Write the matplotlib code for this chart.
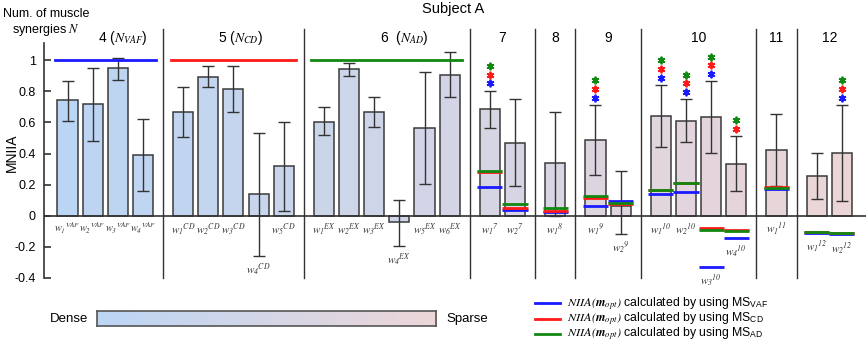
import matplotlib
matplotlib.use("Agg")
import matplotlib.pyplot as plt
import numpy as np
from matplotlib.colors import to_rgb, LinearSegmentedColormap

plt.rcParams['font.family'] = ['Liberation Sans', 'DejaVu Sans']
plt.rcParams['mathtext.fontset'] = 'custom'
plt.rcParams['mathtext.rm'] = 'STIXGeneral:italic'
plt.rcParams['mathtext.sf'] = 'Liberation Sans'
plt.rcParams['mathtext.it'] = 'STIXGeneral:italic'
plt.rcParams['mathtext.bf'] = 'STIXGeneral:italic:bold'

# ---- data ----
group_names = ['4', '5', '6', '7', '8', '9', '10', '11', '12']
group_titles = [r'4 ($N_{VAF}$)', r'5 ($N_{CD}$)', r'6  ($N_{AD}$)',
                '7', '8', '9', '10', '11', '12']
group_sizes = [4, 5, 6, 2, 1, 2, 4, 1, 2]
label_sup = ['VAF', 'CD', 'EX', '7', '8', '9', '10', '11', '12']

mniia = [0.745, 0.717, 0.948, 0.391,
         0.670, 0.895, 0.815, 0.137, 0.320,
         0.605, 0.942, 0.670, -0.043, 0.567, 0.906,
         0.687, 0.470,
         0.339,
         0.485, 0.064,
         0.644, 0.612, 0.637, 0.335,
         0.423,
         0.258, 0.406]
err_hi = [0.867, 0.953, 1.017, 0.622,
          0.830, 0.963, 0.963, 0.534, 0.601,
          0.702, 0.981, 0.766, 0.101, 0.923, 1.056,
          0.805, 0.749,
          0.670,
          0.712, 0.290,
          0.841, 0.749, 0.865, 0.513,
          0.655,
          0.406, 0.712]
err_lo = [0.609, 0.481, 0.873, 0.159,
          0.509, 0.826, 0.665, -0.260, 0.032,
          0.519, 0.899, 0.573, -0.193, 0.204, 0.762,
          0.562, 0.193,
          0.0,
          0.262, -0.118,
          0.440, 0.474, 0.406, 0.161,
          0.193,
          0.107, 0.097]

# reference level (N = 4, 5, 6 groups)
ref_level = 1.0

# NIIA(m_opt) per bar for groups 7..12
niia_vaf = [0.187, 0.036, 0.021, 0.062, 0.095, 0.140, 0.151, -0.328, -0.142, 0.170, -0.109, -0.120]
niia_cd = [0.279, 0.047, 0.032, 0.116, 0.073, 0.165, 0.213, -0.077, -0.092, 0.183, -0.103, -0.113]
niia_ad = [0.288, 0.073, 0.049, 0.127, 0.084, 0.165, 0.213, -0.090, -0.097, 0.176, -0.103, -0.113]
# significance stars, bottom to top (b = VAF, r = CD, g = AD)
stars = ['brg', '', '', 'brg', '', 'brg', 'brg', 'brg', 'rg', '', '', 'brg']

BLUE, RED, GREEN = '#1a1aff', '#ff1a1a', '#118811'
star_col = {'b': BLUE, 'r': RED, 'g': GREEN}

# ---- positions ----
gap = 1.6
pos, groups = [], []
x = 0.0
for gi, n in enumerate(group_sizes):
    idx = []
    for k in range(n):
        pos.append(x)
        idx.append(len(pos) - 1)
        x += 1
    groups.append(idx)
    x += gap - 1
pos = np.array(pos)

fig = plt.figure(figsize=(8.68, 3.44), dpi=100)
W, H = 868, 344
ax = fig.add_axes([44 / W, 1 - 277.8 / H, (866 - 44) / W, (277.8 - 29.3) / H])
ax.set_xlim(-0.935, 31.76)
ax.set_ylim(-0.4, 1.2)

c0 = np.array(to_rgb('#bbd5f4'))
c1 = np.array(to_rgb('#ecd5d7'))
for i, (xp, v) in enumerate(zip(pos, mniia)):
    f = xp / pos[-1]
    col = (1 - f) * c0 + f * c1
    ax.bar(xp, v, width=0.8, color=col, edgecolor='#3a3a3a', linewidth=1.1, zorder=2)
    ax.errorbar(xp, v, yerr=[[v - err_lo[i]], [err_hi[i] - v]], fmt='none',
                ecolor='#333333', elinewidth=1, capsize=4.5, capthick=1, zorder=3)

# zero line
ax.axhline(0, color='#333333', lw=1.2, zorder=4)

# separators
for g in groups[:-1]:
    sx = pos[g[-1]] + 0.8
    ax.plot([sx, sx], [-0.4, 1.2], color='#333333', lw=1, zorder=1, clip_on=False)

# reference lines for 4, 5, 6
for g, c in zip(groups[:3], [BLUE, RED, GREEN]):
    ax.plot([pos[g[0]] - 0.5, pos[g[-1]] + 0.5], [ref_level, ref_level], color=c, lw=2, zorder=5)

# NIIA(m_opt) lines and stars for groups 7..12
later = [i for g in groups[3:] for i in g]
lowest = {i: min(0, err_lo[i]) for i in range(len(pos))}
for j, i in enumerate(later):
    xp = pos[i]
    for vals, c in [(niia_vaf, BLUE), (niia_cd, RED), (niia_ad, GREEN)]:
        ax.plot([xp - 0.5, xp + 0.5], [vals[j], vals[j]], color=c, lw=2, zorder=5,
                solid_capstyle='butt')
    lowest[i] = min(lowest[i], niia_vaf[j], niia_cd[j], niia_ad[j])
    for k, s in enumerate(stars[j]):
        ax.plot(xp, err_hi[i] + 0.047 + 0.056 * k, marker=(6, 2, 0), ms=5.5, mew=1.3,
                color=star_col[s], zorder=6)

# bar labels
for gi, g in enumerate(groups):
    fs = 7.4 if gi == 0 else 8
    for k, i in enumerate(g):
        ax.annotate(r'$w_{%d}{}^{%s}$' % (k + 1, label_sup[gi]),
                    xy=(pos[i], lowest[i]), xytext=(0, -4), textcoords='offset points',
                    ha='center', va='top', fontsize=fs, color='#333333')

# group titles
title_shift = [0.7, 0.3, 0.7, 0, 0, 0, 0, 0, 0]
for g, t, s in zip(groups, group_titles, title_shift):
    ax.text(np.mean(pos[g]) + s, 1.145, t, ha='center', va='center', fontsize=10)

# axes styling
for sp in ['top', 'right', 'bottom']:
    ax.spines[sp].set_visible(False)
ax.spines['left'].set_bounds(-0.4, 1.11)
ax.spines['left'].set_color('#333333')
ax.spines['left'].set_linewidth(1.2)
ax.set_xticks([])
yt = [-0.4, -0.2, 0, 0.2, 0.4, 0.6, 0.8, 1]
ax.set_yticks(yt)
ax.set_yticklabels(['-0.4', '-0.2', '0', '0.2', '0.4', '0.6', '0.8', '1'], fontsize=9)
ax.tick_params(axis='y', direction='in', length=5, width=1.2, color='#333333', pad=6)
fig.text(12 / W, 1 - 153 / H, 'MNIIA', rotation=90, ha='center', va='center', fontsize=10)

fig.text(453 / W, 1 - 9 / H, 'Subject A', ha='center', va='center', fontsize=10.5)
fig.text(46 / W, 1 - 23 / H, 'Num. of muscle\nsynergies $N$', ha='center', va='center',
         fontsize=9, multialignment='center', linespacing=1.1)

# dense / sparse bar
cax = fig.add_axes([97 / W, 1 - 326 / H, (436 - 97) / W, 15 / H])
cmap = LinearSegmentedColormap.from_list('ds', ['#bcd6f5', '#edd6d8'])
cax.imshow(np.linspace(0, 1, 256)[None, :], aspect='auto', cmap=cmap)
cax.set_xticks([])
cax.set_yticks([])
for sp in cax.spines.values():
    sp.set_color('#555555')
    sp.set_linewidth(1.2)
fig.text(88 / W, 1 - 319 / H, 'Dense', ha='right', va='center', fontsize=9.5)
fig.text(446 / W, 1 - 319 / H, 'Sparse', ha='left', va='center', fontsize=9.5)

# legend
leg_rows = [(BLUE, r'MS$_{\mathsf{VAF}}$'), (RED, r'MS$_{\mathsf{CD}}$'), (GREEN, r'MS$_{\mathsf{AD}}$')]
for r, (c, ms) in enumerate(leg_rows):
    yy = 1 - (303 + 15.5 * r) / H
    fig.add_artist(plt.Line2D([535 / W, 560 / W], [yy, yy], color=c, lw=2))
    fig.text(567 / W, yy, r'$\mathit{NIIA}(\mathbf{m}_{opt})$ calculated by using ' + ms,
             ha='left', va='center', fontsize=8.8)

fig.savefig('out.png', dpi=100)
